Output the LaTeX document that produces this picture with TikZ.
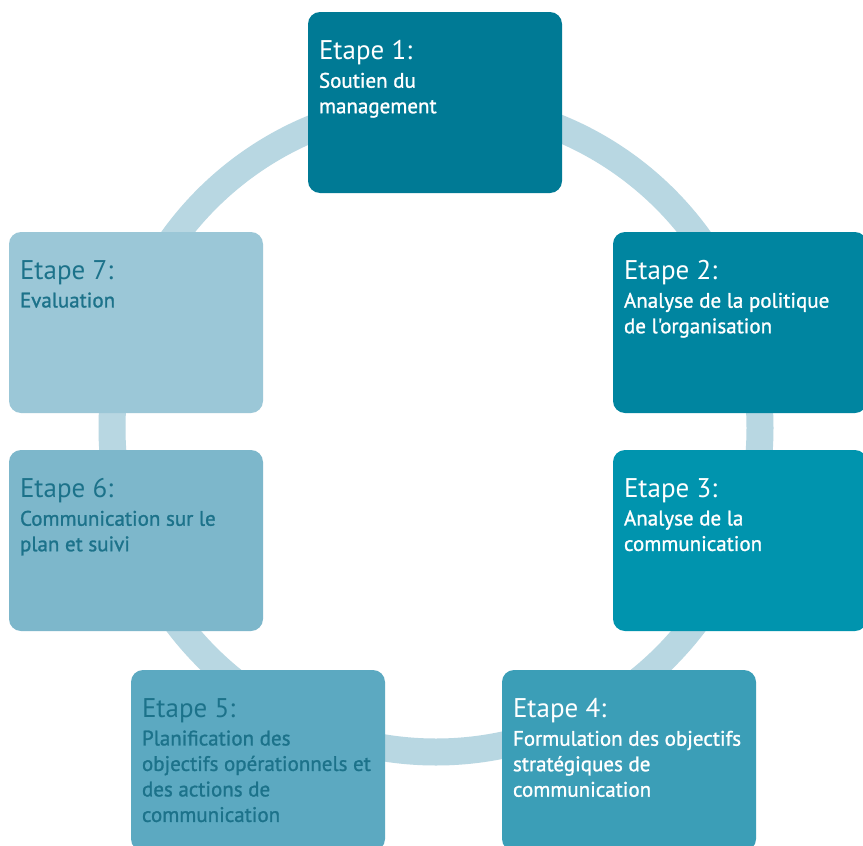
\documentclass[tikz,border=0pt]{standalone}
\usepackage{fontspec}
\setmainfont{PT Sans}
\newfontfamily\subfont{PT Sans}[FakeBold=1.2]
\usepackage{tikz}

\definecolor{ringblue}{HTML}{B8D7E2}
\definecolor{stepone}{HTML}{007A95}
\definecolor{steptwo}{HTML}{0085A0}
\definecolor{stepthree}{HTML}{0094AE}
\definecolor{stepfour}{HTML}{3B9EB7}
\definecolor{stepfive}{HTML}{5CA9C1}
\definecolor{stepsix}{HTML}{7DB7CB}
\definecolor{stepseven}{HTML}{9BC7D7}
\definecolor{darktext}{HTML}{1C728A}

\newcommand{\etape}[1]{{\normalfont\fontsize{27}{28}\selectfont #1}}

\begin{document}
\begin{tikzpicture}[x=1pt, y=-1pt,
	stepbox/.style={rectangle, rounded corners=12pt, minimum width=254pt, minimum height=181pt, inner sep=0pt},
	steptext/.style={anchor=north west, inner sep=0pt, align=left, font=\subfont\fontsize{21}{25.5}\selectfont}]
\clip (0,0) rectangle (863,846);
\fill[white] (0,0) rectangle (863,846);

% ring behind the steps
\draw[ringblue, line width=27pt] (436,428) circle [radius=324pt];

\node[stepbox, fill=stepone] (s1) at (435,102.5) {};
\node[stepbox, fill=steptwo] (s2) at (740,322.5) {};
\node[stepbox, fill=stepthree] (s3) at (740,540.5) {};
\node[stepbox, fill=stepfour] (s4) at (629,760.5) {};
\node[stepbox, fill=stepfive] (s5) at (258,760.5) {};
\node[stepbox, fill=stepsix] (s6) at (136,540.5) {};
\node[stepbox, fill=stepseven] (s7) at (136,322.5) {};

\node[steptext, white] (t1) at ([shift={(11pt,-28.5pt)}]s1.north west)
	{\etape{Etape 1:}\\[2.5pt]Soutien du\\management};
\node[steptext, white] (t2) at ([shift={(11pt,-28.5pt)}]s2.north west)
	{\etape{Etape 2:}\\[2.5pt]Analyse de la politique\\de l'organisation};
\node[steptext, white] (t3) at ([shift={(11pt,-28.5pt)}]s3.north west)
	{\etape{Etape 3:}\\[2.5pt]Analyse de la\\communication};
\node[steptext, white] (t4) at ([shift={(11pt,-28.5pt)}]s4.north west)
	{\etape{Etape 4:}\\[2.5pt]Formulation des objectifs\\stratégiques de\\communication};
\node[steptext, darktext] (t5) at ([shift={(11pt,-28.5pt)}]s5.north west)
	{\etape{Etape 5:}\\[2.5pt]Planification des\\objectifs opérationnels et\\des actions de\\communication};
\node[steptext, darktext] (t6) at ([shift={(11pt,-28.5pt)}]s6.north west)
	{\etape{Etape 6:}\\[2.5pt]Communication sur le\\plan et suivi};
\node[steptext, darktext] (t7) at ([shift={(11pt,-28.5pt)}]s7.north west)
	{\etape{Etape 7:}\\[2.5pt]Evaluation};
\end{tikzpicture}
\end{document}
